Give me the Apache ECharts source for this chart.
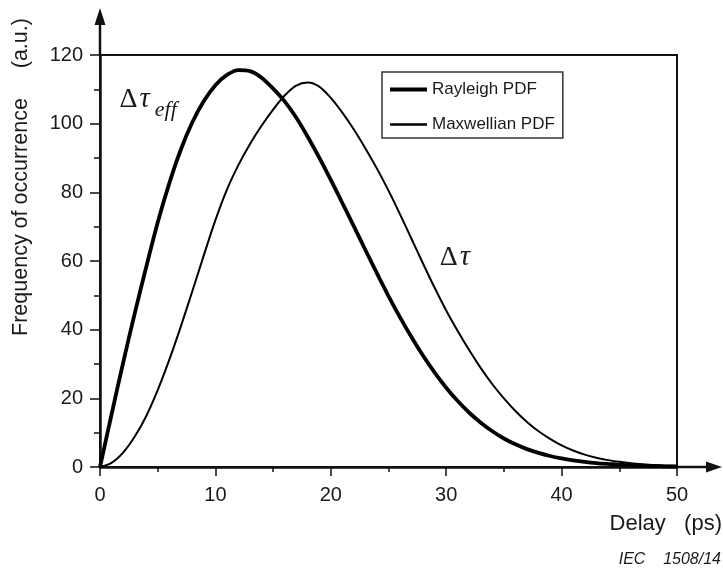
<!DOCTYPE html>
<html><head><meta charset="utf-8">
<script src="https://cdn.jsdelivr.net/npm/echarts@6/dist/echarts.min.js"></script>
<style>html,body{margin:0;padding:0;background:#fff}#c{width:723px;height:571px}</style>
</head><body><div id="c"></div>
<script>
const delay = [0,1,2,3,4,5,6,7,8,9,10,11,12,13,14,15,16,17,18,19,20,21,22,23,24,25,26,27,28,29,30,31,32,33,34,35,36,37,38,39,40,41,42,43,44,45,46,47,48,49,50];
const rayleigh = [0,15.3,30.3,44.6,58.2,71.2,82.6,92.4,100.4,106.6,111.2,114.2,115.6,115.3,113.4,110.2,106.5,101.8,96.2,90.1,83.6,76.9,70.1,63.2,56.4,49.8,43.6,37.8,32.4,27.5,23.1,19.2,15.8,12.9,10.4,8.3,6.6,5.2,4.1,3.2,2.5,1.95,1.5,1.15,0.9,0.7,0.5,0.38,0.28,0.2,0.15];
const maxwellian = [0,1.2,4.2,8.8,14.8,22.4,31.2,40.9,51.2,61.7,71.9,80.8,88,94.1,99.4,104.1,108.2,111.1,112,110.8,107.5,103.2,98.3,92.8,86.9,80.5,73.6,66.4,59.2,52.2,45.6,39.6,34,28.8,24.1,20,16.3,13.1,10.4,8.2,6.3,4.8,3.6,2.7,2,1.5,1.1,0.8,0.55,0.4,0.3];
const seriesNames = ['Rayleigh PDF', 'Maxwellian PDF'];
const xRange = [0, 50, 10];
const yRange = [0, 120, 20];
const yTitle = 'Frequency of occurrence     (a.u.)';
const xTitle = 'Delay   (ps)';
const credit = 'IEC    1508/14';

const pairs = (xs, ys) => xs.map((x, i) => [x, ys[i]]);
const ink = '#1a1a1a';
const font = 'Liberation Sans';

const chart = echarts.init(document.getElementById('c'), null, {renderer: 'canvas'});
chart.setOption({
  animation: false,
  backgroundColor: '#fff',
  textStyle: {fontFamily: font, color: ink},
  grid: {left: 100, right: 46, top: 55, bottom: 104, show: true, borderColor: '#111', borderWidth: 2, backgroundColor: 'transparent'},
  legend: {
    orient: 'vertical', left: 382, top: 72, padding: [9, 8, 5, 8], itemGap: 18,
    itemWidth: 37, itemHeight: 14, itemTextGap: 12,
    borderColor: '#333', borderWidth: 1.5, backgroundColor: '#fff',
    textStyle: {fontFamily: font, fontSize: 17, color: ink},
    data: [
      {name: seriesNames[0], icon: 'path://M0,0H37V4H0Z', itemStyle: {color: '#000'}},
      {name: seriesNames[1], icon: 'path://M0,0H37V2.6H0Z', itemStyle: {color: '#000'}}
    ]
  },
  xAxis: {
    type: 'value', min: xRange[0], max: xRange[1], interval: xRange[2],
    axisLine: {lineStyle: {color: '#111', width: 2.5}},
    axisTick: {length: 9, lineStyle: {color: '#111', width: 1.5}},
    minorTick: {show: true, splitNumber: 2, length: 5, lineStyle: {color: '#111', width: 1.5}},
    splitLine: {show: false},
    axisLabel: {fontSize: 20, color: ink, margin: 18, fontFamily: font}
  },
  yAxis: {
    type: 'value', min: yRange[0], max: yRange[1], interval: yRange[2],
    axisLine: {lineStyle: {color: '#111', width: 2.5}},
    axisTick: {length: 10, lineStyle: {color: '#111', width: 1.5}},
    minorTick: {show: true, splitNumber: 2, length: 6, lineStyle: {color: '#111', width: 1.5}},
    splitLine: {show: false},
    axisLabel: {fontSize: 20, color: ink, margin: 17, fontFamily: font}
  },
  series: [
    {name: seriesNames[0], type: 'line', data: pairs(delay, rayleigh), symbol: 'none', showSymbol: false, smooth: 0.3,
     lineStyle: {color: '#000', width: 3.8}, itemStyle: {color: '#000'}, z: 3},
    {name: seriesNames[1], type: 'line', data: pairs(delay, maxwellian), symbol: 'none', showSymbol: false, smooth: 0.3,
     lineStyle: {color: '#000', width: 2}, itemStyle: {color: '#000'}, z: 2}
  ]
});

const px = (x, y) => chart.convertToPixel({gridIndex: 0}, [x, y]);
const o = px(xRange[0], yRange[0]);
const xe = px(xRange[1], yRange[0]);
const ye = px(xRange[0], yRange[1]);
const a1 = px(1.7, 107);
const a1s = px(4.75, 104);
const a2 = px(29.45, 61);
const serif = 'Liberation Serif';
const deltaTau = {
  text: '{a|Δ}{b|τ}', verticalAlign: 'middle', fill: ink,
  rich: {a: {fontFamily: serif, fontSize: 28, fill: ink}, b: {fontFamily: serif, fontStyle: 'italic', fontSize: 29, fill: ink, padding: [0, 0, 0, 2]}}
};
chart.setOption({
  graphic: [
    {type: 'line', shape: {x1: xe[0], y1: xe[1], x2: 708, y2: xe[1]}, style: {stroke: '#111', lineWidth: 2.5}},
    {type: 'polygon', shape: {points: [[706, xe[1] - 5.5], [722, xe[1]], [706, xe[1] + 5.5]]}, style: {fill: '#111'}},
    {type: 'line', shape: {x1: o[0], y1: ye[1], x2: o[0], y2: 24}, style: {stroke: '#111', lineWidth: 2.5}},
    {type: 'polygon', shape: {points: [[o[0] - 5.5, 25], [o[0], 8], [o[0] + 5.5, 25]]}, style: {fill: '#111'}},
    {type: 'text', x: 21, y: 177, rotation: Math.PI / 2,
     style: {text: yTitle, font: '21.5px "Liberation Sans"', fill: ink, align: 'center', verticalAlign: 'middle'}},
    {type: 'text', x: 722, y: 524,
     style: {text: xTitle, font: '22px "Liberation Sans"', fill: ink, align: 'right', verticalAlign: 'middle'}},
    {type: 'text', x: 721, y: 560,
     style: {text: credit, font: 'italic 16px "Liberation Sans"', fill: ink, align: 'right', verticalAlign: 'middle'}},
    {type: 'text', x: a1[0], y: a1[1], style: deltaTau},
    {type: 'text', x: a1s[0], y: a1s[1],
     style: {text: 'eff', font: 'italic 22px "Liberation Serif"', fill: ink, verticalAlign: 'middle'}},
    {type: 'text', x: a2[0], y: a2[1], style: deltaTau}
  ]
});
</script></body></html>
